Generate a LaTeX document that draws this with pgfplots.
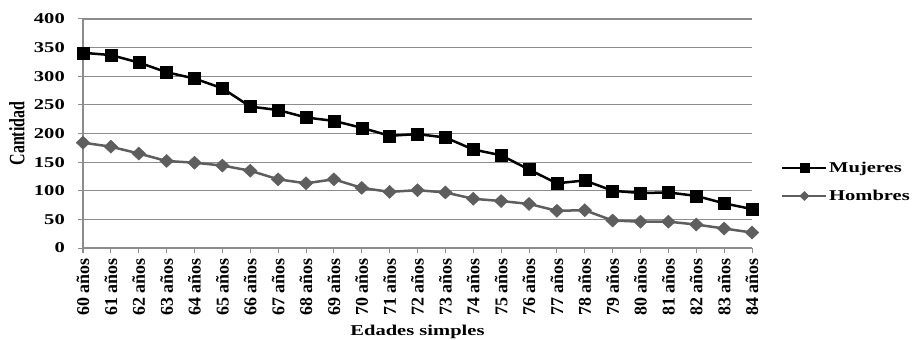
\documentclass[border=0pt]{standalone}
\usepackage{fontspec}
\setmainfont{Liberation Serif}
\usepackage{graphicx}
\usepackage{pgfplots}
\pgfplotsset{compat=1.18}

\definecolor{gridgray}{HTML}{8C8C8C}
\definecolor{hombresgray}{HTML}{5E5E5E}
% wide bold lettering used for the horizontal texts
\newcommand{\wide}[1]{\scalebox{1.37}[1]{#1}}
\newcommand{\tall}[1]{\scalebox{1}[1.37]{#1}}

\pgfplotstableread{
edad mujeres hombres
60 341 184
61 337 177
62 324 165
63 307 152
64 296 149
65 279 144
66 247 135
67 241 120
68 228 113
69 222 120
70 210 105
71 196 98
72 199 101
73 193 97
74 172 86
75 162 82
76 137 77
77 113 65
78 118 66
79 100 48
80 96 46
81 97 46
82 91 41
83 78 34
84 68 27
}\datos

\begin{document}
\begin{tikzpicture}
\path[use as bounding box] (0,0) rectangle (913pt,340pt);
\begin{axis}[
  at={(83pt,92pt)}, anchor=south west,
  scale only axis, width=669pt, height=229pt,
  xmin=60, xmax=84, ymin=0, ymax=400,
  clip=false,
  axis x line*=bottom, axis y line*=left,
  axis line style={gridgray, line width=1pt, -},
  xtick=data,
  xticklabels={60 años,61 años,62 años,63 años,64 años,65 años,66 años,67 años,68 años,69 años,70 años,71 años,72 años,73 años,74 años,75 años,76 años,77 años,78 años,79 años,80 años,81 años,82 años,83 años,84 años},
  ytick={0,50,...,400},
  yticklabel={\wide{\pgfmathprintnumber[assume math mode=true]{\tick}}},
  tick align=outside,
  major tick length=5pt,
  tick style={gridgray, line width=1pt},
  ymajorgrids,
  major grid style={gridgray, line width=1.2pt},
  xticklabel style={rotate=90, anchor=east, inner sep=0pt, font=\fontsize{18}{18}\selectfont\bfseries},
  xticklabel shift=5pt,
  yticklabel style={anchor=east, inner sep=0pt, font=\fontsize{15}{15}\selectfont\bfseries},
  yticklabel shift=13pt,
  xlabel={\wide{Edades simples}},
  xlabel style={at={(axis description cs:0.5,-0.367)}, anchor=center, font=\fontsize{15}{15}\selectfont\bfseries},
  ylabel={\tall{Cantidad}},
  ylabel style={at={(axis description cs:-0.0987,0.5)}, anchor=center, font=\fontsize{16}{16}\selectfont\bfseries},
  legend style={at={(axis description cs:1.0433,0.288)}, anchor=west, draw=none, fill=none,
    inner sep=0pt, row sep=13pt, nodes={inner sep=1.5pt},
    font=\fontsize{15}{15}\selectfont\bfseries},
  legend cell align=left,
  legend image code/.code={\draw[mark repeat=2, mark phase=2, mark size=4.5pt]
    plot coordinates {(0pt,0pt) (22pt,0pt) (44pt,0pt)};},
]
\addplot[black, line width=2.5pt, mark=square*, mark size=6pt,
  mark options={solid, line width=0.5pt}] table[x=edad, y=mujeres] {\datos};
\addlegendentry{\wide{Mujeres}}
\addplot[hombresgray, line width=2.5pt, mark=diamond*, mark size=6.5pt,
  mark options={solid, line width=0.5pt, xscale=1.4}] table[x=edad, y=hombres] {\datos};
\addlegendentry{\wide{Hombres}}
\end{axis}
\end{tikzpicture}
\end{document}
